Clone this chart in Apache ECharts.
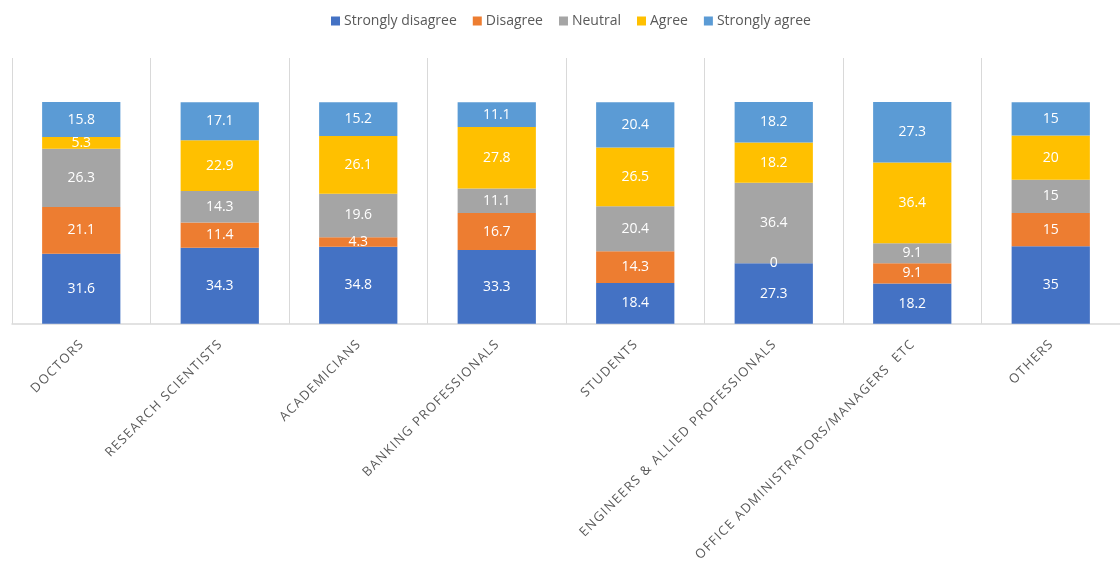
<!DOCTYPE html>
<html>
<head>
<meta charset="utf-8">
<script src="https://cdn.jsdelivr.net/npm/echarts@6/dist/echarts.min.js"></script>
<style>
  html, body { margin: 0; padding: 0; background: #ffffff; }
  #chart { width: 1120px; height: 564px; }
</style>
</head>
<body>
<div id="chart"></div>
<script>
// Respondent groups along the x axis
const categories = [
  'DOCTORS',
  'RESEARCH SCIENTISTS',
  'ACADEMICIANS',
  'BANKING PROFESSIONALS',
  'STUDENTS',
  'ENGINEERS & ALLIED PROFESSIONALS',
  'OFFICE ADMINISTRATORS/MANAGERS  ETC',
  'OTHERS'
];

// Share of responses (%) in each group, by answer
const stronglyDisagree = [31.6, 34.3, 34.8, 33.3, 18.4, 27.3, 18.2, 35];
const disagree         = [21.1, 11.4, 4.3, 16.7, 14.3, 0, 9.1, 15];
const neutral          = [26.3, 14.3, 19.6, 11.1, 20.4, 36.4, 9.1, 15];
const agree            = [5.3, 22.9, 26.1, 27.8, 26.5, 18.2, 36.4, 20];
const stronglyAgree    = [15.8, 17.1, 15.2, 11.1, 20.4, 18.2, 27.3, 15];

const seriesDefs = [
  { name: 'Strongly disagree', data: stronglyDisagree, color: '#4472C4' },
  { name: 'Disagree',          data: disagree,         color: '#ED7D31' },
  { name: 'Neutral',           data: neutral,          color: '#A5A5A5' },
  { name: 'Agree',             data: agree,            color: '#FFC000' },
  { name: 'Strongly agree',    data: stronglyAgree,    color: '#5B9BD5' }
];

const font = '"Open Sans", "Noto Sans", sans-serif';

// Widen the tracking of the axis captions with hair spaces between letters
const spaced = s => Array.from(s).join('\u200A');

const chart = echarts.init(document.getElementById('chart'), null, { renderer: 'canvas' });

chart.setOption({
  animation: false,
  backgroundColor: '#ffffff',
  textStyle: { fontFamily: font },
  legend: {
    top: 9,
    left: 326,
    itemWidth: 9,
    itemHeight: 9,
    itemGap: 16,
    icon: 'rect',
    textStyle: { color: '#595959', fontSize: 14, fontFamily: font, padding: [0, 0, 0, -1] },
    data: seriesDefs.map(s => s.name)
  },
  grid: { left: 12, right: -11, top: 58, bottom: 240, containLabel: false },
  xAxis: {
    type: 'category',
    data: categories,
    axisLine: { show: true, lineStyle: { color: '#d9d9d9', width: 1.5 } },
    axisTick: { show: false },
    splitLine: { show: true, lineStyle: { color: '#d9d9d9', width: 1 } },
    axisLabel: {
      interval: 0,
      rotate: 45,
      margin: 19,
      color: '#595959',
      fontSize: 13,
      fontFamily: font,
      formatter: v => spaced(v)
    }
  },
  yAxis: {
    type: 'value',
    min: 0,
    max: 120,
    show: false,
    splitLine: { show: false }
  },
  series: seriesDefs.map(s => ({
    name: s.name,
    type: 'bar',
    stack: 'total',
    barWidth: '56.5%',
    data: s.data,
    itemStyle: { color: s.color },
    label: {
      show: true,
      position: 'inside',
      color: '#ffffff',
      fontSize: 14,
      fontFamily: font,
      formatter: p => String(p.value)
    }
  }))
});
</script>
</body>
</html>
